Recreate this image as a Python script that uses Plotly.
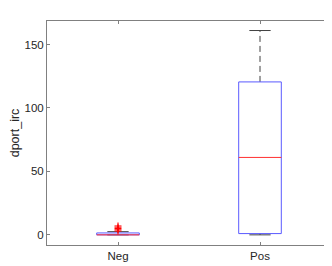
import plotly.graph_objects as go

categories = ["Neg", "Pos"]
positions = [1, 2]
q1 = [0, 1]
median = [0, 61]
q3 = [1.5, 120.5]
lower_whisker = [0, 0]
upper_whisker = [2.5, 161]
neg_outliers = [3, 4, 5, 6, 7]

box_half = 0.15
cap_half = 0.075

fig = go.Figure()

for i, p in enumerate(positions):
    fig.add_trace(go.Scatter(x=[p, p], y=[q3[i], upper_whisker[i]], mode="lines",
                             line=dict(color="#404040", width=1, dash="6px,4px"),
                             showlegend=False, hoverinfo="skip"))
    fig.add_trace(go.Scatter(x=[p, p], y=[lower_whisker[i], q1[i]], mode="lines",
                             line=dict(color="#404040", width=1, dash="6px,4px"),
                             showlegend=False, hoverinfo="skip"))
    for v in (upper_whisker[i], lower_whisker[i]):
        fig.add_trace(go.Scatter(x=[p - cap_half, p + cap_half], y=[v, v], mode="lines",
                                 line=dict(color="#404040", width=1),
                                 showlegend=False, hoverinfo="skip"))
    fig.add_trace(go.Scatter(x=[p - box_half, p + box_half, p + box_half, p - box_half, p - box_half],
                             y=[q1[i], q1[i], q3[i], q3[i], q1[i]], mode="lines",
                             line=dict(color="#5a5aff", width=1),
                             showlegend=False, hoverinfo="skip"))
    fig.add_trace(go.Scatter(x=[p - box_half, p + box_half], y=[median[i], median[i]], mode="lines",
                             line=dict(color="#ff3030", width=1),
                             showlegend=False, hoverinfo="skip"))

fig.add_trace(go.Scatter(x=[positions[0]] * len(neg_outliers), y=neg_outliers, mode="markers",
                         marker=dict(symbol="cross-thin", size=5, line=dict(color="red", width=1)),
                         showlegend=False, hoverinfo="skip"))

font_family = "Liberation Sans, Arial, sans-serif"
axis_common = dict(showline=True, linecolor="#808080", linewidth=1, mirror="ticks",
                   ticks="inside", ticklen=3, tickcolor="#808080", showgrid=False, zeroline=False,
                   tickfont=dict(family=font_family, size=11.5, color="#262626"))

# page body has an 8px margin: figure is offset by 8px right and down
fig.update_layout(
    width=324, height=258,
    margin=dict(l=39, r=1, t=13, b=21),
    paper_bgcolor="white", plot_bgcolor="white",
    xaxis=dict(range=[0.5, 2.5], tickvals=positions, ticktext=categories, **axis_common),
    yaxis=dict(range=[-8, 168.5], tickvals=[0, 50, 100, 150],
               title=dict(text="dport_irc", standoff=5,
                          font=dict(family=font_family, size=12.5, color="#262626")),
               **axis_common),
)

fig.write_html("out.html")
